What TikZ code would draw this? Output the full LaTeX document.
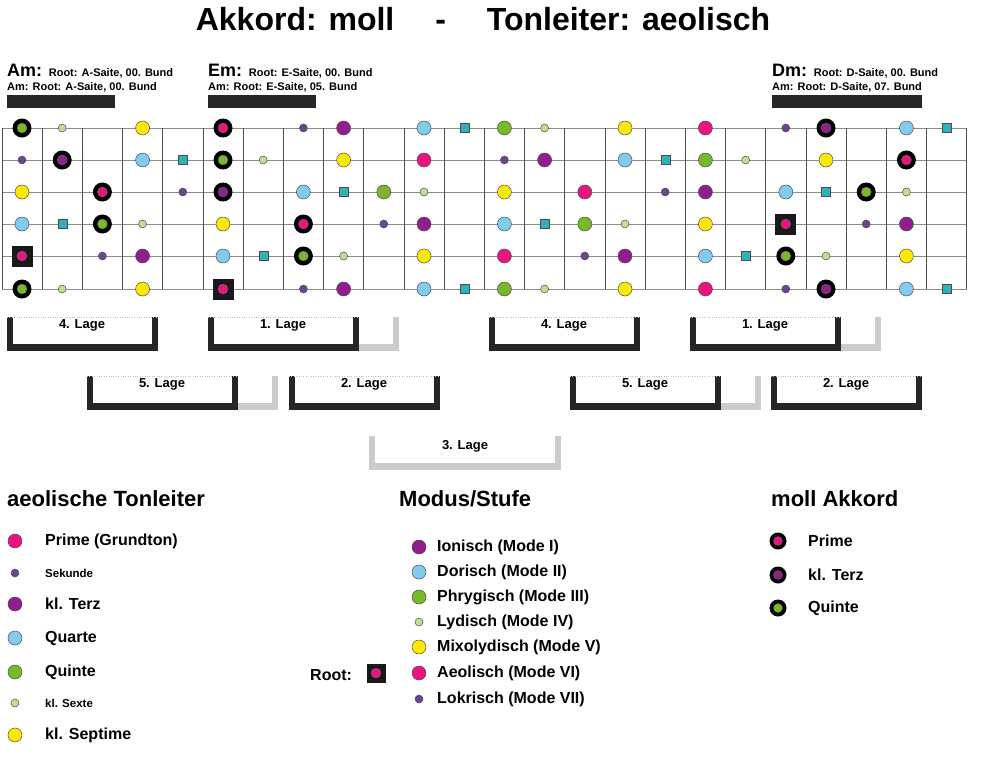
\documentclass[tikz,border=0pt]{standalone}
\usepackage{fontspec}
\setmainfont{Liberation Sans}
\usetikzlibrary{positioning}

\definecolor{prim}{HTML}{EA1480}
\definecolor{sek}{HTML}{6E4393}
\definecolor{terz}{HTML}{921D8F}
\definecolor{quart}{HTML}{80CCEE}
\definecolor{quint}{HTML}{78B82A}
\definecolor{sext}{HTML}{BDE08F}
\definecolor{sept}{HTML}{FFE800}
\definecolor{tri}{HTML}{2CB2BE}

\tikzset{
  dot/.style={circle, draw=black!70, line width=0.5pt, inner sep=0pt, minimum size=14pt},
  small/.style={circle, draw=black!70, line width=0.5pt, inner sep=0pt, minimum size=8pt},
  note0/.style={dot, fill=prim},
  note2/.style={small, fill=sek},
  note3/.style={dot, fill=terz},
  note5/.style={dot, fill=quart},
  note7/.style={dot, fill=quint},
  note8/.style={small, fill=sext},
  note10/.style={dot, fill=sept},
  note6/.style={rectangle, draw=black!70, fill=tri, inner sep=0pt, minimum size=9pt},
  note1/.style={inner sep=0pt}, note4/.style={inner sep=0pt},
  note9/.style={inner sep=0pt}, note11/.style={inner sep=0pt},
  ring/.style={circle, fill=black, inner sep=0pt, minimum size=19pt},
  core/.style={circle, draw=black!60, inner sep=0pt, minimum size=10pt},
  rootbox/.style={rectangle, fill=black!90, inner sep=0pt, minimum size=21pt},
  fret/.style={black!70, line width=0.8pt},
  string/.style={black!45, line width=1pt},
  wall/.style={fill=black!85},
  ghost/.style={fill=black!20},
  lagetext/.style={font=\fontsize{13}{13}\selectfont\bfseries},
  item/.style={anchor=west, inner sep=0pt, font=\fontsize{16}{16}\selectfont\bfseries},
  smallitem/.style={anchor=west, inner sep=0pt, font=\fontsize{11.5}{11.5}\selectfont\bfseries},
  head/.style={anchor=base west, inner sep=0pt, font=\fontsize{22}{22}\selectfont\bfseries},
}

% one U-shaped position box: x, y, label, name
\newcommand\lagebox[4]{%
  \fill[wall] (#1,#2) rectangle ++(6,34);
  \fill[wall] (#1+145,#2) rectangle ++(6,34);
  \fill[wall] (#1,#2+27) rectangle ++(151,7);
  \draw[black!25, dotted] (#1,#2) -- ++(151,0);
  \node[lagetext] (#4) at (#1+75,#2+8) {#3};
}
% light extension right of a box
\newcommand\lageghost[2]{%
  \fill[ghost] (#1+151,#2+27) rectangle ++(40,7);
  \fill[ghost] (#1+185,#2) rectangle ++(6,34);
}

\begin{document}
\begin{tikzpicture}[x=1pt, y=-1pt]
  \useasboundingbox (0,0) rectangle (988,756);

  % Title
  \node[font=\fontsize{32}{32}\selectfont\bfseries] (title) at (483,19)
    {Akkord: moll\quad\ -\quad\ Tonleiter: aeolisch};

  % Chord headers
  \foreach \x/\ch/\sa/\bund/\nm in {7/Am/A/00/am, 208/Em/E/05/em, 772/Dm/D/07/dm}{
    \node[anchor=base west, inner sep=0pt] (hd-\nm) at (\x,76)
      {\fontsize{18}{18}\selectfont\bfseries \ch: \fontsize{11}{11}\selectfont Root: \sa-Saite, 00. Bund};
    \node[anchor=base west, inner sep=0pt, font=\fontsize{11}{11}\selectfont\bfseries] (sub-\nm) at (\x,90)
      {Am: Root: \sa-Saite, \bund. Bund};
  }
  \fill[black!85] (7,95) rectangle (115,108);
  \fill[black!85] (208,95) rectangle (316,108);
  \fill[black!85] (772,95) rectangle (922,108);

  % Fretboard
  \foreach \y in {128,160,192,224,256,289}
    \draw[string] (2,\y) -- (967,\y);
  \foreach \i in {0,...,24}
    \draw[fret] ({2+40.2*\i},128) -- ({2+40.2*\i},289);

  % Scale notes
  \foreach \s/\o [count=\r] in {128/7,160/2,192/10,224/5,256/0,289/7}
    \foreach \c in {0,...,23}{
      \pgfmathtruncatemacro\n{mod(\o+\c,12)}
      \node[note\n] (n-\r-\c) at ({22+40.2*\c},\s) {};
    }

  % Chord tones
  \foreach \r/\c/\col in {1/0/quint, 1/5/prim, 2/1/terz, 2/5/quint, 3/2/prim, 3/5/terz,
      4/2/quint, 4/7/prim, 5/7/quint, 6/0/quint, 1/20/terz, 2/22/prim, 3/21/quint,
      5/19/quint, 6/20/terz}{
    \node[ring] (ch-\r-\c) at (n-\r-\c) {};
    \node[core, fill=\col] at (ch-\r-\c) {};
  }
  % Roots
  \foreach \r/\c in {5/0, 6/5, 4/19}{
    \node[rootbox] (rt-\r-\c) at (n-\r-\c) {};
    \node[core, fill=prim] at (rt-\r-\c) {};
  }

  % Positions
  \lagebox{7}{317}{4. Lage}{l4a}
  \lageghost{208}{317}
  \lagebox{208}{317}{1. Lage}{l1a}
  \lageghost{87}{376}
  \lagebox{87}{376}{5. Lage}{l5a}
  \lagebox{289}{376}{2. Lage}{l2a}
  \lagebox{489}{317}{4. Lage}{l4b}
  \lageghost{690}{317}
  \lagebox{690}{317}{1. Lage}{l1b}
  \lageghost{570}{376}
  \lagebox{570}{376}{5. Lage}{l5b}
  \lagebox{771}{376}{2. Lage}{l2b}
  % 3. Lage (light)
  \fill[ghost] (369,436) rectangle ++(6,34);
  \fill[ghost] (555,436) rectangle ++(6,34);
  \fill[ghost] (369,463) rectangle ++(192,7);
  \node[lagetext] (l3) at (465,446) {3. Lage};

  % Legend: scale
  \node[head] (hd-scale) at (7,506) {aeolische Tonleiter};
  \foreach \y/\st/\txt/\ty [count=\k] in {541/note0/Prime (Grundton)/item, 573/note2/Sekunde/smallitem,
      604/note3/kl. Terz/item, 638/note5/Quarte/item, 672/note7/Quinte/item,
      703/note8/kl. Sexte/smallitem, 735/note10/kl. Septime/item}{
    \node[\st] (ls-\k) at (15,\y) {};
    \node[\ty] at (45,\y) {\txt};
  }

  % Legend: modes
  \node[head] (hd-mode) at (399,506) {Modus/Stufe};
  \foreach \y/\st/\txt [count=\k] in {547/note3/Ionisch (Mode I), 572/note5/Dorisch (Mode II),
      597/note7/Phrygisch (Mode III), 622/note8/Lydisch (Mode IV),
      647/note10/Mixolydisch (Mode V), 673/note0/Aeolisch (Mode VI), 699/note2/Lokrisch (Mode VII)}{
    \node[\st] (lm-\k) at (419,\y) {};
    \node[item] at (437,\y) {\txt};
  }
  \node[item] (rootlbl) at (310,675) {Root:};
  \node[rootbox, minimum size=19pt] (rootkey) at (376,673) {};
  \node[core, fill=prim] at (rootkey) {};

  % Legend: chord
  \node[head] (hd-chord) at (771,506) {moll Akkord};
  \foreach \y/\col/\txt [count=\k] in {541/prim/Prime, 575/terz/kl. Terz, 608/quint/Quinte}{
    \node[ring, minimum size=17pt] (lc-\k) at (778,\y) {};
    \node[core, minimum size=9pt, fill=\col] at (lc-\k) {};
    \node[item] at (808,\y) {\txt};
  }
\end{tikzpicture}
\end{document}
